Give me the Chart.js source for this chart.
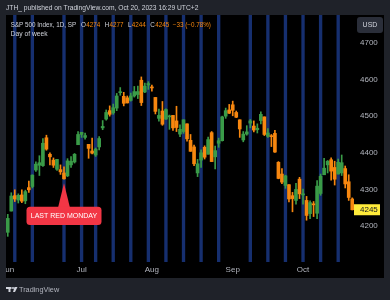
<!DOCTYPE html>
<html lang="en">
<head>
<meta charset="UTF-8">
<title>S&amp;P 500 Index, 1D - Day of week</title>
<script src="https://cdn.jsdelivr.net/npm/chart.js"></script>
<style>
  html, body { margin: 0; padding: 0; background: #1f2229; }
  canvas { display: block; }
</style>
</head>
<body>
<canvas id="spxChart" width="390" height="300"></canvas>
<script>
// daily S&P 500 candles, Jun 1 - Oct 20 2023 (last one intraday)
const dates = [
  '2023-06-01','2023-06-02','2023-06-05','2023-06-06','2023-06-07','2023-06-08','2023-06-09',
  '2023-06-12','2023-06-13','2023-06-14','2023-06-15','2023-06-16','2023-06-20','2023-06-21',
  '2023-06-22','2023-06-23','2023-06-26','2023-06-27','2023-06-28','2023-06-29','2023-06-30',
  '2023-07-03','2023-07-05','2023-07-06','2023-07-07','2023-07-10','2023-07-11','2023-07-12',
  '2023-07-13','2023-07-14','2023-07-17','2023-07-18','2023-07-19','2023-07-20','2023-07-21',
  '2023-07-24','2023-07-25','2023-07-26','2023-07-27','2023-07-28','2023-07-31','2023-08-01',
  '2023-08-02','2023-08-03','2023-08-04','2023-08-07','2023-08-08','2023-08-09','2023-08-10',
  '2023-08-11','2023-08-14','2023-08-15','2023-08-16','2023-08-17','2023-08-18','2023-08-21',
  '2023-08-22','2023-08-23','2023-08-24','2023-08-25','2023-08-28','2023-08-29','2023-08-30',
  '2023-08-31','2023-09-01','2023-09-05','2023-09-06','2023-09-07','2023-09-08','2023-09-11',
  '2023-09-12','2023-09-13','2023-09-14','2023-09-15','2023-09-18','2023-09-19','2023-09-20',
  '2023-09-21','2023-09-22','2023-09-25','2023-09-26','2023-09-27','2023-09-28','2023-09-29',
  '2023-10-02','2023-10-03','2023-10-04','2023-10-05','2023-10-06','2023-10-09','2023-10-10',
  '2023-10-11','2023-10-12','2023-10-13','2023-10-16','2023-10-17','2023-10-18','2023-10-19',
  '2023-10-20'
];
const open = [
  4183,4241,4283,4271,4285,4269,4305, 4308,4353,4366,4365,4441,4396,4380,
  4355,4354,4345,4337,4367,4375,4422, 4450,4442,4423,4405,4394,4416,4468,
  4492,4515,4509,4522,4564,4554,4550, 4543,4555,4559,4598,4566,4585,4579,
  4551,4494,4514,4492,4498,4502,4487, 4451,4458,4479,4434,4416,4345,4380,
  4415,4396,4455,4389,4426,4433,4500, 4517,4531,4510,4490,4435,4451,4481,
  4473,4463,4488,4498,4445,4445,4453, 4374,4342,4311,4313,4283,4270,4328,
  4285,4270,4234,4259,4235,4289,4340, 4367,4381,4360,4342,4345,4357,4321,
  4274
];
const high = [
  4232,4291,4299,4288,4299,4298,4323, 4340,4375,4392,4439,4448,4400,4386,
  4382,4367,4362,4384,4390,4398,4458, 4456,4454,4423,4440,4413,4444,4488,
  4517,4528,4533,4562,4578,4565,4555, 4563,4581,4582,4607,4590,4594,4585,
  4551,4519,4540,4520,4503,4502,4527, 4476,4490,4479,4450,4421,4382,4408,
  4419,4443,4458,4418,4440,4500,4522, 4532,4541,4514,4490,4458,4474,4491,
  4487,4479,4512,4498,4466,4450,4461, 4376,4357,4339,4313,4292,4317,4333,
  4301,4281,4269,4267,4324,4342,4385, 4379,4386,4377,4383,4394,4364,4340,
  4277
];
const low = [
  4172,4241,4267,4263,4264,4261,4292, 4304,4349,4338,4363,4407,4367,4360,
  4352,4341,4328,4335,4360,4372,4422, 4442,4437,4385,4397,4390,4408,4463,
  4489,4500,4505,4515,4557,4528,4536, 4541,4552,4548,4529,4564,4573,4568,
  4506,4486,4475,4491,4464,4461,4458, 4444,4453,4432,4404,4365,4335,4360,
  4383,4396,4376,4356,4415,4432,4494, 4507,4501,4496,4442,4430,4448,4468,
  4457,4454,4479,4447,4442,4417,4401, 4329,4316,4303,4266,4239,4260,4275,
  4260,4216,4220,4226,4220,4284,4340, 4345,4325,4312,4342,4338,4304,4270,
  4244
];
const close = [
  4221,4282,4274,4284,4268,4294,4299, 4339,4369,4373,4426,4410,4389,4366,
  4382,4348,4329,4378,4377,4396,4450, 4456,4447,4412,4399,4410,4439,4472,
  4510,4505,4523,4555,4566,4535,4536, 4555,4567,4567,4537,4582,4589,4577,
  4513,4502,4478,4518,4499,4468,4469, 4464,4490,4438,4404,4370,4370,4400,
  4388,4436,4376,4406,4433,4498,4515, 4508,4516,4497,4465,4451,4457,4487,
  4462,4467,4505,4450,4454,4444,4402, 4330,4320,4337,4274,4275,4300,4288,
  4288,4229,4264,4258,4309,4336,4358, 4377,4350,4328,4374,4373,4315,4278,
  4244.6
];
const priceTicks = [4200, 4300, 4400, 4500, 4600, 4700];
const monthNames = ['Jan','Feb','Mar','Apr','May','Jun','Jul','Aug','Sep','Oct','Nov','Dec'];
const calloutIndex = 16; // Jun 26
const calloutText = 'LAST RED MONDAY';

const UP = '#3a9b48';
const DOWN = '#f7870f';
const MONDAY = '#162f6f';
const FRAME = '#1f2229';
const TEXT = '#d1d4dc';
const AXIS = '#b2b5be';
const FONT = "'Liberation Sans', Arial, sans-serif";

const candleColor = close.map((c, i) => c >= open[i] ? UP : DOWN);
const isMonday = dates.map(d => new Date(d + 'T12:00:00Z').getUTCDay() === 1);

function roundRect(ctx, x, y, w, h, r) {
  ctx.beginPath();
  ctx.moveTo(x + r, y);
  ctx.arcTo(x + w, y, x + w, y + h, r);
  ctx.arcTo(x + w, y + h, x, y + h, r);
  ctx.arcTo(x, y + h, x, y, r);
  ctx.arcTo(x, y, x + w, y, r);
  ctx.closePath();
}

const tvFrame = {
  id: 'tvFrame',
  beforeDraw(chart) {
    const ctx = chart.ctx;
    ctx.save();
    ctx.fillStyle = FRAME;
    ctx.fillRect(0, 0, chart.width, chart.height);
    ctx.fillStyle = '#000';
    ctx.fillRect(6, 15, 378, 263);
    ctx.restore();
  },
  afterDraw(chart) {
    const ctx = chart.ctx;
    const xs = chart.scales.x, ys = chart.scales.y;
    ctx.save();
    // side strips of the frame
    ctx.fillStyle = FRAME;
    ctx.fillRect(0, 15, 6, 263);
    ctx.fillRect(384, 15, 6, 263);

    ctx.textBaseline = 'middle';
    ctx.textAlign = 'left';

    // header
    ctx.fillStyle = TEXT;
    ctx.font = '6.7px ' + FONT;
    ctx.fillText('JTH_ published on TradingView.com, Oct 20, 2023 16:29 UTC+2', 6, 8.5);

    // legend line
    const last = close.length - 1;
    ctx.font = '6.3px ' + FONT;
    ctx.fillText('S&P 500 Index, 1D, SP', 10.7, 25);
    const parts = [['O', open[last], 81], ['H', high[last], 104.7], ['L', low[last], 128], ['C', close[last], 150.3]];
    parts.forEach(([k, v, x]) => {
      ctx.fillStyle = TEXT;
      ctx.fillText(k, x, 25);
      const w = ctx.measureText(k).width;
      ctx.fillStyle = DOWN;
      ctx.fillText(String(Math.round(v)), x + w + 0.3, 25);
    });
    const chg = close[last] - close[last - 1];
    const pct = chg / close[last - 1] * 100;
    ctx.fillStyle = DOWN;
    ctx.fillText('\u2212' + Math.round(Math.abs(chg)) + ' (\u2212' + Math.abs(pct).toFixed(2) + '%)', 172.7, 25);
    ctx.fillStyle = TEXT;
    ctx.font = '6.7px ' + FONT;
    ctx.fillText('Day of week', 10.7, 34.3);

    // USD button
    ctx.fillStyle = '#2a2e39';
    roundRect(ctx, 357, 17, 26, 16, 3);
    ctx.fill();
    ctx.fillStyle = TEXT;
    ctx.font = '7px ' + FONT;
    ctx.textAlign = 'center';
    ctx.fillText('USD', 370, 25.3);

    // last price label
    const py = ys.getPixelForValue(close[last]);
    ctx.fillStyle = '#ffeb3b';
    ctx.fillRect(354, py - 5.5, 26, 11);
    ctx.fillStyle = '#131722';
    ctx.font = '8px ' + FONT;
    ctx.textAlign = 'left';
    ctx.fillText(String(Math.round(close[last])), 360, py + 0.3);

    // callout
    const cx = xs.getPixelForValue(calloutIndex);
    const tipY = ys.getPixelForValue(low[calloutIndex]) + 4;
    const boxTop = tipY + 23.5;
    const boxW = 75, boxH = 18.4;
    ctx.fillStyle = '#f23645';
    ctx.beginPath();
    ctx.moveTo(cx, tipY);
    ctx.lineTo(cx + 6, boxTop + 1);
    ctx.lineTo(cx - 6, boxTop + 1);
    ctx.closePath();
    ctx.fill();
    roundRect(ctx, cx - boxW / 2, boxTop, boxW, boxH, 3.5);
    ctx.fill();
    ctx.fillStyle = '#ffffff';
    ctx.font = '7px ' + FONT;
    ctx.textAlign = 'center';
    ctx.fillText(calloutText, cx, boxTop + boxH / 2 + 0.3);

    // footer logo
    ctx.fillStyle = TEXT;
    ctx.fillRect(6, 287, 5.5, 2);
    ctx.fillRect(8.5, 287, 2, 5);
    ctx.beginPath();
    ctx.arc(13, 288, 1, 0, Math.PI * 2);
    ctx.fill();
    ctx.beginPath();
    ctx.moveTo(14.5, 287);
    ctx.lineTo(17.5, 287);
    ctx.lineTo(15, 292);
    ctx.lineTo(13, 292);
    ctx.closePath();
    ctx.fill();
    ctx.fillStyle = AXIS;
    ctx.font = '7.3px ' + FONT;
    ctx.textAlign = 'left';
    ctx.fillText('TradingView', 19, 290);
    ctx.restore();
  }
};

const ctx = document.getElementById('spxChart').getContext('2d');
new Chart(ctx, {
  type: 'bar',
  data: {
    labels: dates,
    datasets: [
      {
        label: 'Monday',
        data: isMonday.map(m => m ? [0, 1] : null),
        yAxisID: 'bg',
        backgroundColor: MONDAY,
        barPercentage: 0.95,
        categoryPercentage: 1,
        grouped: false,
        order: 3
      },
      {
        label: 'Wick',
        data: low.map((l, i) => [l, high[i]]),
        yAxisID: 'y',
        backgroundColor: candleColor,
        barThickness: 1,
        grouped: false,
        order: 2
      },
      {
        label: 'Body',
        data: open.map((o, i) => [o, close[i]]),
        yAxisID: 'y',
        backgroundColor: candleColor,
        barThickness: 3,
        minBarLength: 1,
        grouped: false,
        order: 1
      }
    ]
  },
  options: {
    responsive: false,
    animation: false,
    layout: { padding: { left: 6, top: 15, right: 6, bottom: 22 } },
    plugins: {
      legend: { display: false },
      tooltip: { enabled: false }
    },
    scales: {
      x: {
        offset: true,
        grid: { display: false, drawTicks: false },
        border: { display: false },
        ticks: {
          autoSkip: false,
          maxRotation: 0,
          padding: 3,
          color: AXIS,
          font: { family: FONT, size: 8 },
          callback(value, index) {
            const m = dates[index].slice(5, 7);
            if (index === 0 || dates[index - 1].slice(5, 7) !== m) return monthNames[+m - 1];
            return '';
          }
        },
        afterFit(s) { s.height = 16; s.paddingLeft = 0; s.paddingRight = 0; }
      },
      y: {
        position: 'right',
        min: 4102,
        max: 4776,
        grid: { display: false, drawTicks: false },
        border: { display: false },
        ticks: {
          padding: 6,
          color: AXIS,
          font: { family: FONT, size: 8 },
          callback: v => String(v)
        },
        afterBuildTicks(s) { s.ticks = priceTicks.map(v => ({ value: v })); },
        afterFit(s) { s.width = 30; s.paddingTop = 0; s.paddingBottom = 0; }
      },
      bg: { axis: 'y', display: false, min: 0, max: 1 }
    }
  },
  plugins: [tvFrame]
});
</script>
</body>
</html>
